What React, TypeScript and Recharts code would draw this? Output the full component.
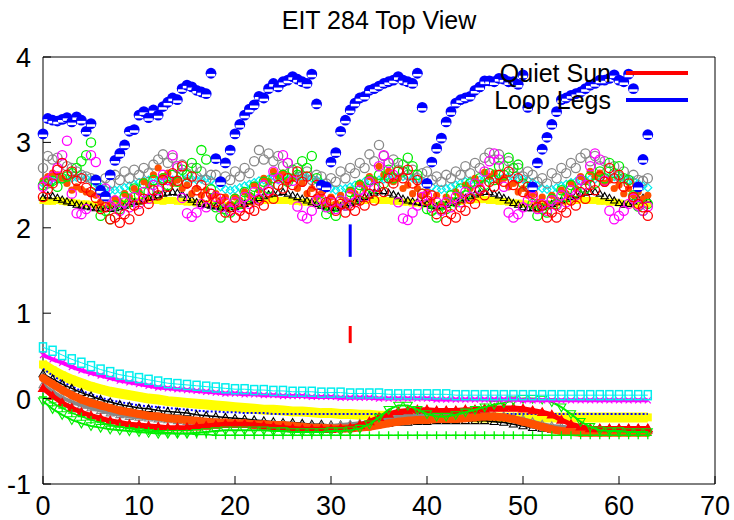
import React from "react";
import { ComposedChart, Scatter, XAxis, YAxis, ErrorBar } from "recharts";

const FONT = "'Liberation Sans', Arial, Helvetica, sans-serif";
const X_TICKS = [0, 10, 20, 30, 40, 50, 60, 70];
const Y_TICKS = [-1, 0, 1, 2, 3, 4];
const TICK_LEN = 8;
const X_GAP = 10;
const Y_GAP = 12;

// upper traces, one value every half step, x = 0 .. 63
const blueLegs = [
  3.10, 3.28, 3.26, 3.25, 3.27, 3.29, 3.24, 3.30, 3.26, 3.13, 3.22,
  2.56, 2.44, 2.37, 2.62, 2.79, 2.87, 2.97, 3.13, 3.15, 3.32, 3.36, 3.29, 3.38, 3.32, 3.42, 3.47, 3.52, 3.50, 3.63, 3.67, 3.65, 3.61, 3.59, 3.57, 3.81,
  2.81, 2.54, 2.76, 2.91, 3.10, 3.21, 3.32, 3.39, 3.44, 3.54, 3.52, 3.63, 3.69, 3.65, 3.71, 3.73, 3.77, 3.74, 3.71, 3.69, 3.80, 3.45,
  2.50, 2.48, 2.77, 2.88, 3.13, 3.26, 3.38, 3.46, 3.52, 3.54, 3.61, 3.63, 3.66, 3.69, 3.71, 3.73, 3.77, 3.73, 3.71, 3.69, 3.81, 3.41,
  2.52, 2.77, 2.93, 3.05, 3.24, 3.36, 3.46, 3.50, 3.52, 3.54, 3.61, 3.65, 3.72, 3.72, 3.71, 3.75, 3.74, 3.71, 3.71, 3.68, 3.79, 3.41,
  2.48, 2.76, 2.92, 3.06, 3.21, 3.36, 3.50, 3.52, 3.55, 3.57, 3.59, 3.63, 3.67, 3.69, 3.73, 3.73, 3.75, 3.79, 3.73, 3.71, 3.80, 3.63,
  2.48, 2.80, 3.09,
];
const yellowTop = [
  2.32, 2.31, 2.31, 2.32, 2.31, 2.30, 2.30, 2.29, 2.28, 2.28, 2.27,
  2.27, 2.26, 2.26, 2.27, 2.27, 2.28, 2.29, 2.30, 2.31, 2.31, 2.32, 2.32, 2.32, 2.32, 2.31, 2.32, 2.32, 2.31, 2.31, 2.30, 2.30, 2.29, 2.29, 2.28, 2.28,
  2.27, 2.27, 2.26, 2.26, 2.27, 2.28, 2.29, 2.30, 2.31, 2.32, 2.32, 2.32, 2.33, 2.32, 2.32, 2.32, 2.31, 2.31, 2.30, 2.30, 2.29, 2.28,
  2.27, 2.26, 2.26, 2.27, 2.27, 2.28, 2.30, 2.31, 2.31, 2.32, 2.33, 2.33, 2.32, 2.32, 2.32, 2.31, 2.31, 2.30, 2.30, 2.29, 2.29, 2.28,
  2.28, 2.27, 2.26, 2.26, 2.27, 2.29, 2.30, 2.31, 2.32, 2.32, 2.33, 2.33, 2.33, 2.32, 2.32, 2.31, 2.31, 2.30, 2.29, 2.29, 2.28, 2.28,
  2.27, 2.26, 2.26, 2.27, 2.28, 2.29, 2.30, 2.31, 2.32, 2.32, 2.33, 2.32, 2.32, 2.32, 2.31, 2.31, 2.30, 2.30, 2.29, 2.28, 2.28, 2.27,
  2.27, 2.27, 2.28,
];
const blackTop = [
  2.35, 2.38, 2.37, 2.35, 2.33, 2.31, 2.29, 2.27, 2.26, 2.25, 2.24,
  2.23, 2.22, 2.22, 2.22, 2.23, 2.24, 2.26, 2.28, 2.30, 2.31, 2.33, 2.35, 2.36, 2.38, 2.40, 2.41, 2.42, 2.41, 2.39, 2.35, 2.33, 2.30, 2.28, 2.27, 2.26,
  2.25, 2.24, 2.23, 2.22, 2.24, 2.26, 2.28, 2.31, 2.33, 2.35, 2.37, 2.39, 2.40, 2.41, 2.42, 2.40, 2.38, 2.36, 2.34, 2.32, 2.30, 2.28,
  2.26, 2.24, 2.23, 2.23, 2.25, 2.27, 2.29, 2.31, 2.34, 2.36, 2.38, 2.41, 2.43, 2.43, 2.41, 2.39, 2.37, 2.34, 2.32, 2.31, 2.30, 2.29,
  2.28, 2.26, 2.25, 2.25, 2.27, 2.29, 2.31, 2.33, 2.35, 2.37, 2.39, 2.41, 2.42, 2.42, 2.40, 2.38, 2.35, 2.32, 2.29, 2.27, 2.24, 2.23,
  2.23, 2.23, 2.24, 2.26, 2.28, 2.30, 2.32, 2.34, 2.36, 2.38, 2.40, 2.41, 2.42, 2.42, 2.40, 2.37, 2.35, 2.32, 2.29, 2.27, 2.28, 2.31,
  2.34, 2.35, 2.33,
];
const cyanTop = [
  2.52, 2.54, 2.55, 2.56, 2.57, 2.58, 2.58, 2.59, 2.60, 2.58, 2.56,
  2.52, 2.48, 2.45, 2.44, 2.44, 2.45, 2.47, 2.49, 2.51, 2.53, 2.55, 2.56, 2.57, 2.56, 2.55, 2.55, 2.56, 2.57, 2.58, 2.58, 2.57, 2.56, 2.57, 2.58, 2.56,
  2.52, 2.48, 2.45, 2.44, 2.45, 2.47, 2.49, 2.51, 2.53, 2.55, 2.56, 2.57, 2.57, 2.56, 2.56, 2.57, 2.58, 2.59, 2.60, 2.59, 2.58, 2.56,
  2.53, 2.49, 2.46, 2.44, 2.45, 2.46, 2.48, 2.50, 2.52, 2.54, 2.55, 2.56, 2.56, 2.57, 2.57, 2.58, 2.59, 2.60, 2.60, 2.58, 2.57, 2.55,
  2.52, 2.48, 2.45, 2.45, 2.46, 2.48, 2.50, 2.52, 2.54, 2.55, 2.56, 2.56, 2.57, 2.57, 2.58, 2.58, 2.59, 2.60, 2.59, 2.58, 2.57, 2.56,
  2.53, 2.49, 2.46, 2.45, 2.45, 2.47, 2.49, 2.51, 2.53, 2.54, 2.55, 2.56, 2.57, 2.57, 2.58, 2.59, 2.60, 2.60, 2.59, 2.58, 2.56, 2.55,
  2.52, 2.49, 2.47,
];
const grayTop = [
  2.70, 2.84, 2.80, 2.82, 2.76, 2.72, 2.70, 2.66, 2.62, 2.60, 2.58,
  2.56, 2.50, 2.58, 2.52, 2.62, 2.56, 2.66, 2.58, 2.68, 2.62, 2.70, 2.64, 2.74, 2.80, 2.86, 2.76, 2.82, 2.70, 2.74, 2.64, 2.70, 2.60, 2.66, 2.56, 2.62,
  2.62, 2.54, 2.60, 2.56, 2.66, 2.60, 2.70, 2.64, 2.78, 2.91, 2.80, 2.87, 2.78, 2.84, 2.72, 2.76, 2.66, 2.70, 2.60, 2.66, 2.56, 2.62,
  2.60, 2.52, 2.58, 2.54, 2.66, 2.58, 2.70, 2.64, 2.76, 2.70, 2.86, 2.78, 2.97, 2.84, 2.76, 2.80, 2.68, 2.74, 2.62, 2.68, 2.58, 2.64,
  2.66, 2.56, 2.60, 2.54, 2.62, 2.58, 2.66, 2.62, 2.72, 2.64, 2.76, 2.70, 2.82, 2.88, 2.80, 2.86, 2.72, 2.78, 2.64, 2.70, 2.60, 2.66,
  2.62, 2.54, 2.58, 2.52, 2.64, 2.58, 2.70, 2.64, 2.76, 2.70, 2.82, 2.87, 2.78, 2.84, 2.72, 2.78, 2.66, 2.72, 2.60, 2.66, 2.56, 2.62,
  2.56, 2.55, 2.58,
];
const orangeTop = [
  2.55, 2.60, 2.64, 2.62, 2.58, 2.52, 2.44, 2.48, 2.45, 2.42, 2.40,
  2.38, 2.30, 2.36, 2.28, 2.34, 2.30, 2.40, 2.36, 2.46, 2.42, 2.54, 2.50, 2.62, 2.70, 2.60, 2.64, 2.52, 2.56, 2.46, 2.50, 2.40, 2.46, 2.38, 2.44, 2.36,
  2.40, 2.32, 2.36, 2.28, 2.36, 2.32, 2.42, 2.38, 2.50, 2.44, 2.58, 2.54, 2.66, 2.60, 2.64, 2.54, 2.58, 2.46, 2.52, 2.40, 2.46, 2.36,
  2.40, 2.30, 2.36, 2.28, 2.38, 2.32, 2.44, 2.40, 2.52, 2.46, 2.60, 2.56, 2.72, 2.62, 2.66, 2.54, 2.58, 2.46, 2.50, 2.40, 2.46, 2.38,
  2.42, 2.32, 2.38, 2.28, 2.36, 2.32, 2.42, 2.38, 2.50, 2.46, 2.58, 2.52, 2.65, 2.60, 2.64, 2.54, 2.58, 2.48, 2.52, 2.42, 2.46, 2.38,
  2.40, 2.30, 2.36, 2.28, 2.38, 2.32, 2.44, 2.40, 2.52, 2.46, 2.60, 2.54, 2.66, 2.60, 2.64, 2.52, 2.56, 2.46, 2.50, 2.40, 2.46, 2.38,
  2.42, 2.34, 2.38,
];
const greenTop = [
  2.50, 2.52, 2.55, 2.48, 2.58, 2.60, 2.64, 2.70, 2.78, 2.85, 3.00,
  2.50, 2.14, 2.20, 2.10, 2.26, 2.22, 2.36, 2.30, 2.46, 2.38, 2.52, 2.42, 2.56, 2.46, 2.58, 2.50, 2.62, 2.54, 2.68, 2.62, 2.76, 2.70, 2.91, 2.80, 2.45,
  2.24, 2.12, 2.22, 2.18, 2.34, 2.28, 2.42, 2.36, 2.48, 2.40, 2.54, 2.46, 2.58, 2.50, 2.62, 2.54, 2.68, 2.62, 2.78, 2.70, 2.84, 2.58,
  2.30, 2.16, 2.22, 2.14, 2.32, 2.26, 2.42, 2.34, 2.50, 2.40, 2.56, 2.46, 2.62, 2.52, 2.68, 2.58, 2.76, 2.66, 2.82, 2.72, 2.62, 2.40,
  2.22, 2.20, 2.12, 2.26, 2.22, 2.38, 2.30, 2.46, 2.38, 2.52, 2.44, 2.58, 2.50, 2.64, 2.56, 2.72, 2.62, 2.82, 2.70, 2.74, 2.52, 2.48,
  2.28, 2.14, 2.22, 2.18, 2.34, 2.28, 2.44, 2.36, 2.50, 2.42, 2.56, 2.46, 2.60, 2.52, 2.66, 2.58, 2.76, 2.64, 2.72, 2.58, 2.56, 2.38,
  2.25, 2.20, 2.28,
];
const magentaTop = [
  2.48, 2.55, 2.60, 2.70, 2.85, 3.02, 2.40, 2.17, 2.16, 2.22, 2.85,
  2.77, 2.40, 2.46, 2.26, 2.32, 2.20, 2.30, 2.24, 2.36, 2.28, 2.42, 2.34, 2.50, 2.44, 2.62, 2.56, 2.85, 2.72, 2.35, 2.17, 2.13, 2.18, 2.28, 2.24, 2.40,
  2.36, 2.24, 2.30, 2.20, 2.30, 2.24, 2.36, 2.28, 2.42, 2.34, 2.50, 2.44, 2.66, 2.58, 2.85, 2.76, 2.55, 2.25, 2.14, 2.11, 2.20, 2.32,
  2.34, 2.24, 2.30, 2.22, 2.32, 2.26, 2.38, 2.30, 2.44, 2.36, 2.54, 2.48, 2.72, 2.85, 2.76, 2.62, 2.30, 2.11, 2.09, 2.18, 2.26, 2.36,
  2.38, 2.24, 2.30, 2.20, 2.30, 2.24, 2.36, 2.30, 2.42, 2.36, 2.52, 2.46, 2.66, 2.78, 2.87, 2.80, 2.48, 2.18, 2.12, 2.16, 2.24, 2.32,
  2.36, 2.22, 2.28, 2.20, 2.32, 2.26, 2.38, 2.30, 2.44, 2.38, 2.56, 2.50, 2.72, 2.87, 2.80, 2.55, 2.20, 2.10, 2.14, 2.20, 2.28, 2.34,
  2.26, 2.20, 2.25,
];
const redTop = [
  2.36, 2.45, 2.52, 2.68, 2.76, 2.62, 2.66, 2.55, 2.58, 2.47, 2.42,
  2.35, 2.22, 2.24, 2.10, 2.12, 2.06, 2.16, 2.10, 2.26, 2.20, 2.34, 2.28, 2.44, 2.38, 2.56, 2.48, 2.64, 2.55, 2.72, 2.52, 2.60, 2.44, 2.50, 2.36, 2.40,
  2.30, 2.34, 2.18, 2.24, 2.12, 2.20, 2.14, 2.22, 2.20, 2.32, 2.26, 2.42, 2.34, 2.50, 2.46, 2.58, 2.50, 2.66, 2.54, 2.60, 2.42, 2.50,
  2.44, 2.30, 2.32, 2.20, 2.28, 2.18, 2.26, 2.20, 2.32, 2.26, 2.40, 2.32, 2.48, 2.42, 2.58, 2.52, 2.66, 2.58, 2.68, 2.52, 2.56, 2.40,
  2.32, 2.38, 2.16, 2.22, 2.08, 2.16, 2.12, 2.24, 2.20, 2.34, 2.28, 2.44, 2.38, 2.54, 2.48, 2.62, 2.54, 2.66, 2.50, 2.58, 2.42, 2.48,
  2.40, 2.24, 2.26, 2.12, 2.18, 2.12, 2.24, 2.18, 2.32, 2.26, 2.42, 2.34, 2.50, 2.44, 2.60, 2.54, 2.70, 2.58, 2.62, 2.48, 2.52, 2.36,
  2.28, 2.24, 2.14,
];

// lower traces, one value per step, x = 0 .. 63
const cyanLow = [
  0.60, 0.56, 0.51, 0.46, 0.42, 0.38, 0.34, 0.31, 0.28, 0.26, 0.24, 0.22, 0.20, 0.18, 0.17, 0.16,
  0.15, 0.14, 0.13, 0.12, 0.11, 0.11, 0.10, 0.10, 0.09, 0.09, 0.08, 0.08, 0.08, 0.07, 0.07, 0.07,
  0.06, 0.06, 0.06, 0.06, 0.05, 0.05, 0.05, 0.05, 0.05, 0.05, 0.05, 0.04, 0.04, 0.04, 0.04, 0.04,
  0.04, 0.04, 0.04, 0.04, 0.04, 0.04, 0.04, 0.04, 0.04, 0.04, 0.04, 0.04, 0.04, 0.04, 0.04, 0.04,
];
const magentaLow = [
  0.51, 0.46, 0.42, 0.37, 0.33, 0.30, 0.27, 0.24, 0.21, 0.19, 0.17, 0.15, 0.13, 0.12, 0.11, 0.10,
  0.09, 0.08, 0.07, 0.06, 0.06, 0.05, 0.05, 0.04, 0.04, 0.03, 0.03, 0.03, 0.02, 0.02, 0.02, 0.01,
  0.01, 0.01, 0.01, 0.00, 0.00, 0.00, 0.00, 0.00, 0.00, -0.01, -0.01, -0.01, -0.01, -0.01, -0.01, -0.01,
  -0.01, -0.01, -0.02, -0.02, -0.02, -0.02, -0.02, -0.02, -0.02, -0.02, -0.02, -0.02, -0.02, -0.02, -0.02, -0.02,
];
const yellowLow = [
  0.40, 0.33, 0.27, 0.22, 0.18, 0.14, 0.11, 0.08, 0.06, 0.04, 0.02, 0.00, -0.01, -0.03, -0.04, -0.05,
  -0.06, -0.07, -0.08, -0.09, -0.10, -0.11, -0.12, -0.13, -0.13, -0.14, -0.15, -0.15, -0.16, -0.17, -0.17, -0.18,
  -0.18, -0.19, -0.19, -0.20, -0.20, -0.20, -0.21, -0.21, -0.21, -0.21, -0.21, -0.21, -0.21, -0.22, -0.22, -0.22,
  -0.22, -0.22, -0.22, -0.22, -0.22, -0.22, -0.22, -0.22, -0.22, -0.22, -0.22, -0.22, -0.22, -0.22, -0.22, -0.22,
];
const blueLow = [
  0.35, 0.27, 0.20, 0.14, 0.09, 0.05, 0.01, -0.02, -0.04, -0.06, -0.08, -0.09, -0.10, -0.11, -0.12, -0.13,
  -0.14, -0.15, -0.15, -0.16, -0.16, -0.17, -0.17, -0.17, -0.18, -0.18, -0.18, -0.18, -0.18, -0.18, -0.18, -0.18,
  -0.18, -0.18, -0.18, -0.18, -0.18, -0.18, -0.18, -0.18, -0.18, -0.18, -0.18, -0.18, -0.18, -0.18, -0.18, -0.18,
  -0.18, -0.18, -0.18, -0.18, -0.18, -0.18, -0.18, -0.18, -0.18, -0.18, -0.18, -0.18, -0.18, -0.18, -0.18, -0.18,
];
const blackLow = [
  0.29, 0.23, 0.17, 0.12, 0.07, 0.03, -0.01, -0.04, -0.07, -0.09, -0.11, -0.12, -0.14, -0.15, -0.16, -0.17,
  -0.19, -0.20, -0.21, -0.22, -0.23, -0.24, -0.25, -0.26, -0.27, -0.28, -0.28, -0.29, -0.30, -0.30, -0.31, -0.31,
  -0.31, -0.31, -0.30, -0.30, -0.29, -0.28, -0.28, -0.27, -0.27, -0.26, -0.26, -0.26, -0.26, -0.26, -0.26, -0.27,
  -0.28, -0.30, -0.32, -0.34, -0.35, -0.36, -0.37, -0.37, -0.37, -0.37, -0.37, -0.37, -0.37, -0.37, -0.37, -0.37,
];
const orangeLow = [
  0.24, 0.17, 0.10, 0.04, -0.01, -0.05, -0.08, -0.11, -0.14, -0.16, -0.18, -0.20, -0.21, -0.23, -0.24, -0.25,
  -0.26, -0.27, -0.28, -0.28, -0.29, -0.29, -0.30, -0.30, -0.31, -0.31, -0.32, -0.33, -0.34, -0.34, -0.35, -0.35,
  -0.35, -0.34, -0.33, -0.31, -0.29, -0.27, -0.26, -0.25, -0.25, -0.24, -0.24, -0.24, -0.23, -0.22, -0.21, -0.21,
  -0.22, -0.24, -0.27, -0.30, -0.33, -0.36, -0.38, -0.39, -0.40, -0.40, -0.40, -0.40, -0.40, -0.40, -0.40, -0.40,
];
const grayLow = [
  0.16, 0.08, 0.01, -0.04, -0.08, -0.11, -0.14, -0.17, -0.19, -0.21, -0.22, -0.23, -0.24, -0.25, -0.26, -0.27,
  -0.28, -0.29, -0.29, -0.29, -0.29, -0.30, -0.30, -0.30, -0.31, -0.31, -0.31, -0.32, -0.32, -0.32, -0.32, -0.31,
  -0.30, -0.29, -0.27, -0.25, -0.23, -0.21, -0.20, -0.20, -0.20, -0.20, -0.20, -0.19, -0.19, -0.18, -0.18, -0.19,
  -0.20, -0.22, -0.24, -0.27, -0.30, -0.32, -0.33, -0.34, -0.35, -0.35, -0.35, -0.35, -0.35, -0.35, -0.35, -0.35,
];
const redLow = [
  0.12, 0.03, -0.05, -0.11, -0.16, -0.20, -0.23, -0.26, -0.28, -0.30, -0.31, -0.32, -0.33, -0.34, -0.34, -0.34,
  -0.33, -0.32, -0.31, -0.30, -0.30, -0.30, -0.31, -0.32, -0.33, -0.34, -0.35, -0.36, -0.36, -0.36, -0.36, -0.35,
  -0.34, -0.31, -0.27, -0.22, -0.18, -0.15, -0.14, -0.13, -0.13, -0.14, -0.14, -0.14, -0.13, -0.13, -0.12, -0.11,
  -0.11, -0.11, -0.12, -0.14, -0.16, -0.19, -0.25, -0.30, -0.33, -0.35, -0.35, -0.35, -0.35, -0.35, -0.35, -0.35,
];
const greenTriLow = [
  -0.03, -0.12, -0.19, -0.25, -0.29, -0.32, -0.34, -0.36, -0.37, -0.38, -0.39, -0.40, -0.41, -0.41, -0.41, -0.41,
  -0.40, -0.39, -0.38, -0.37, -0.37, -0.37, -0.37, -0.37, -0.38, -0.38, -0.39, -0.39, -0.39, -0.39, -0.38, -0.38,
  -0.37, -0.35, -0.30, -0.22, -0.13, -0.08, -0.08, -0.13, -0.18, -0.21, -0.21, -0.19, -0.16, -0.13, -0.10, -0.07,
  -0.05, -0.02, 0.00, 0.00, -0.01, -0.04, -0.10, -0.18, -0.27, -0.33, -0.37, -0.38, -0.38, -0.39, -0.39, -0.39,
];
const greenPlusLow = [
  0.02, -0.05, -0.11, -0.17, -0.21, -0.25, -0.28, -0.31, -0.33, -0.35, -0.37, -0.38, -0.39, -0.40, -0.41, -0.41,
  -0.42, -0.42, -0.43, -0.43, -0.43, -0.43, -0.43, -0.43, -0.43, -0.43, -0.43, -0.43, -0.43, -0.43, -0.43, -0.43,
  -0.43, -0.43, -0.43, -0.43, -0.43, -0.43, -0.43, -0.43, -0.43, -0.43, -0.43, -0.43, -0.43, -0.43, -0.43, -0.43,
  -0.43, -0.43, -0.43, -0.43, -0.43, -0.43, -0.43, -0.43, -0.43, -0.43, -0.43, -0.43, -0.43, -0.43, -0.43, -0.43,
];

// the two error bars at x = 32
const quietSunBar = [{ x: 32, y: 0.75, err: 0.1 }];
const loopLegsBar = [{ x: 32, y: 1.85, err: 0.19 }];

const halfSteps = (ys: number[]) => ys.map((y, i) => ({ x: i * 0.5, y }));
const fullSteps = (ys: number[]) => ys.map((y, i) => ({ x: i, y }));

const BLUE = "#0000ff";
const RED = "#ff0000";
const GREEN = "#00ee00";
const MAGENTA = "#ff00ff";
const CYAN = "#00eeee";
const YELLOW = "#ffff00";
const ORANGE = "#ff5000";
const GRAY = "#888888";

// marker shapes
const halfDot = (p: any) => (
  <g>
    <circle cx={p.cx} cy={p.cy} r={5.4} fill={BLUE} />
    <rect x={p.cx - 4.2} y={p.cy + 0.7} width={8.4} height={2.5} fill="#fff" />
  </g>
);
const ring = (color: string) => (p: any) => (
  <circle cx={p.cx} cy={p.cy} r={4.6} fill="none" stroke={color} strokeWidth={1.3} />
);
const dot = (color: string, r: number) => (p: any) => <circle cx={p.cx} cy={p.cy} r={r} fill={color} />;
const square = (color: string, s: number) => (p: any) => (
  <rect x={p.cx - s / 2} y={p.cy - s / 2} width={s} height={s} fill={color} />
);
const openSquare = (color: string) => (p: any) => (
  <rect x={p.cx - 3.5} y={p.cy - 4.5} width={7} height={9} fill="none" stroke={color} strokeWidth={1.5} />
);
const diamond = (color: string) => (p: any) => (
  <path
    d={`M${p.cx},${p.cy - 4}L${p.cx + 4},${p.cy}L${p.cx},${p.cy + 4}L${p.cx - 4},${p.cy}Z`}
    fill="none"
    stroke={color}
    strokeWidth={1.2}
  />
);
const triangle = (color: string, s: number, filled = false, down = false) => (p: any) => {
  const d = down ? -1 : 1;
  return (
    <path
      d={`M${p.cx},${p.cy - d * s}L${p.cx + s},${p.cy + d * s * 0.7}L${p.cx - s},${p.cy + d * s * 0.7}Z`}
      fill={filled ? color : "none"}
      stroke={color}
      strokeWidth={1.1}
    />
  );
};
const plus = (color: string) => (p: any) => (
  <path d={`M${p.cx - 4},${p.cy}H${p.cx + 4}M${p.cx},${p.cy - 4}V${p.cy + 4}`} stroke={color} strokeWidth={1.3} />
);
const cross = (color: string) => (p: any) => (
  <path d={`M${p.cx - 3},${p.cy - 3}L${p.cx + 3},${p.cy + 3}M${p.cx + 3},${p.cy - 3}L${p.cx - 3},${p.cy + 3}`} stroke={color} strokeWidth={1.2} />
);
const none = () => <g />;

// tick renderers: inward tick marks as in the original plot
function BottomTick({ x, y, payload }: any) {
  const base = y - X_GAP;
  return (
    <g>
      <line x1={x} x2={x} y1={base} y2={base - TICK_LEN} stroke="#000" />
      <text x={x} y={base + 31} textAnchor="middle" fontFamily={FONT} fontSize={27} fill="#000">
        {payload.value}
      </text>
    </g>
  );
}
function LeftTick({ x, y, payload }: any) {
  const base = x + Y_GAP;
  return (
    <g>
      <line x1={base} x2={base + TICK_LEN} y1={y} y2={y} stroke="#000" />
      <text x={x} y={y + 10} textAnchor="end" fontFamily={FONT} fontSize={27} fill="#000">
        {payload.value}
      </text>
    </g>
  );
}
function TopTick({ x, y }: any) {
  return <line x1={x} x2={x} y1={y} y2={y + TICK_LEN} stroke="#000" />;
}
function RightTick({ x, y }: any) {
  return <line x1={x} x2={x - TICK_LEN} y1={y} y2={y} stroke="#000" />;
}

function Legend() {
  const rows = [
    { label: "Quiet Sun", color: RED, top: 59 },
    { label: "Loop Legs", color: BLUE, top: 86 },
  ];
  return (
    <>
      {rows.map((r) => (
        <div key={r.label}>
          <div
            style={{
              position: "absolute",
              left: 400,
              top: r.top,
              width: 211,
              textAlign: "right",
              fontFamily: FONT,
              fontSize: 25,
              lineHeight: "28px",
              color: "#000",
            }}
          >
            {r.label}
          </div>
          <div
            style={{
              position: "absolute",
              left: 626,
              top: r.top + 12,
              width: 62,
              height: 4,
              background: r.color,
            }}
          />
        </div>
      ))}
    </>
  );
}

export default function App() {
  return (
    <div style={{ position: "absolute", left: 0, top: 0, width: 734, height: 520, background: "#fff" }}>
      <ComposedChart width={734} height={520} margin={{ top: 56, right: 18, bottom: 0, left: 0 }}>
        <XAxis
          dataKey="x"
          type="number"
          domain={[0, 70]}
          ticks={X_TICKS}
          interval={0}
          height={36}
          tickSize={0}
          tickMargin={X_GAP}
          tickLine={false}
          axisLine={{ stroke: "#000" }}
          tick={<BottomTick />}
        />
        <XAxis
          xAxisId="top"
          dataKey="x"
          orientation="top"
          type="number"
          domain={[0, 70]}
          ticks={X_TICKS}
          interval={0}
          height={1}
          tickSize={0}
          tickMargin={0}
          tickLine={false}
          axisLine={{ stroke: "#000" }}
          tick={<TopTick />}
        />
        <YAxis
          dataKey="y"
          type="number"
          domain={[-1, 4]}
          ticks={Y_TICKS}
          interval={0}
          width={43}
          tickSize={0}
          tickMargin={Y_GAP}
          tickLine={false}
          axisLine={{ stroke: "#000" }}
          tick={<LeftTick />}
        />
        <YAxis
          yAxisId="right"
          dataKey="y"
          orientation="right"
          type="number"
          domain={[-1, 4]}
          ticks={Y_TICKS}
          interval={0}
          width={1}
          tickSize={0}
          tickMargin={0}
          tickLine={false}
          axisLine={{ stroke: "#000" }}
          tick={<RightTick />}
        />

        {/* lower traces */}
        <Scatter data={fullSteps(yellowLow)} fill={YELLOW} line={{ stroke: YELLOW, strokeWidth: 10 }} shape={square(YELLOW, 8)} isAnimationActive={false} />
        <Scatter data={fullSteps(blueLow)} fill={BLUE} line={{ stroke: BLUE, strokeWidth: 2, strokeDasharray: "2 2" }} shape={none} isAnimationActive={false} />
        <Scatter data={fullSteps(blackLow)} fill="#000" line={{ stroke: "#000", strokeWidth: 1.5 }} shape={triangle("#000", 4)} isAnimationActive={false} />
        <Scatter data={fullSteps(grayLow)} fill={GRAY} line={{ stroke: GRAY, strokeWidth: 4 }} shape={triangle(GRAY, 4)} isAnimationActive={false} />
        <Scatter data={fullSteps(orangeLow)} fill={ORANGE} line={{ stroke: ORANGE, strokeWidth: 8 }} shape={dot(ORANGE, 4)} isAnimationActive={false} />
        <Scatter data={fullSteps(redLow)} fill={RED} line={{ stroke: RED, strokeWidth: 5 }} shape={triangle(RED, 4.5, true)} isAnimationActive={false} />
        <Scatter data={fullSteps(greenTriLow)} fill={GREEN} line={{ stroke: GREEN, strokeWidth: 2 }} shape={triangle(GREEN, 4.5, false, true)} isAnimationActive={false} />
        <Scatter data={fullSteps(greenPlusLow)} fill={GREEN} line={{ stroke: GREEN, strokeWidth: 1.5 }} shape={plus(GREEN)} isAnimationActive={false} />
        <Scatter data={fullSteps(magentaLow)} fill={MAGENTA} line={{ stroke: MAGENTA, strokeWidth: 4 }} shape={cross(MAGENTA)} isAnimationActive={false} />
        <Scatter data={fullSteps(cyanLow)} fill={CYAN} line={{ stroke: CYAN, strokeWidth: 1 }} shape={openSquare(CYAN)} isAnimationActive={false} />

        {/* upper traces */}
        <Scatter data={halfSteps(yellowTop)} fill={YELLOW} shape={square(YELLOW, 7)} isAnimationActive={false} />
        <Scatter data={halfSteps(blackTop)} fill="#000" shape={triangle("#000", 3.6)} isAnimationActive={false} />
        <Scatter data={halfSteps(cyanTop)} fill={CYAN} shape={diamond(CYAN)} isAnimationActive={false} />
        <Scatter data={halfSteps(grayTop)} fill={GRAY} shape={ring(GRAY)} isAnimationActive={false} />
        <Scatter data={halfSteps(orangeTop)} fill={ORANGE} shape={dot(ORANGE, 3.6)} isAnimationActive={false} />
        <Scatter data={halfSteps(greenTop)} fill={GREEN} shape={ring(GREEN)} isAnimationActive={false} />
        <Scatter data={halfSteps(magentaTop)} fill={MAGENTA} shape={ring(MAGENTA)} isAnimationActive={false} />
        <Scatter data={halfSteps(redTop)} fill={RED} shape={ring(RED)} isAnimationActive={false} />
        <Scatter data={halfSteps(blueLegs)} fill={BLUE} shape={halfDot} isAnimationActive={false} />

        {/* error bars */}
        <Scatter data={quietSunBar} fill={RED} shape={none} isAnimationActive={false}>
          <ErrorBar dataKey="err" direction="y" width={0} stroke={RED} strokeWidth={3} />
        </Scatter>
        <Scatter data={loopLegsBar} fill={BLUE} shape={none} isAnimationActive={false}>
          <ErrorBar dataKey="err" direction="y" width={0} stroke={BLUE} strokeWidth={3} />
        </Scatter>
      </ComposedChart>
      <div
        style={{
          position: "absolute",
          left: 43,
          top: 5,
          width: 672,
          textAlign: "center",
          fontFamily: FONT,
          fontSize: 25,
          lineHeight: "30px",
          color: "#000",
        }}
      >
        EIT 284 Top View
      </div>
      <Legend />
    </div>
  );
}
